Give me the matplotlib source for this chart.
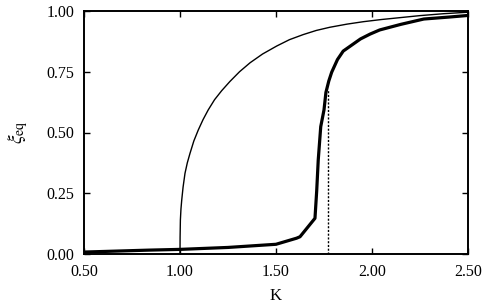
import matplotlib
matplotlib.use('Agg')
import matplotlib.pyplot as plt

# thin curve (mean-field prediction)
k_thin = [1.0, 1.0005, 1.002, 1.005, 1.009, 1.016, 1.026, 1.038, 1.052, 1.072, 1.095, 1.12,
          1.147, 1.18, 1.217, 1.26, 1.31, 1.365, 1.43, 1.504, 1.57, 1.642, 1.71, 1.78,
          1.87, 1.955, 2.05, 2.15, 2.25, 2.375, 2.50]
xi_thin = [0.0, 0.07, 0.14, 0.185, 0.222, 0.275, 0.332, 0.375, 0.414, 0.465, 0.51, 0.553,
           0.593, 0.635, 0.672, 0.71, 0.75, 0.787, 0.823, 0.856, 0.882, 0.903, 0.92, 0.933,
           0.946, 0.956, 0.965, 0.973, 0.981, 0.989, 0.995]

# thick curve (simulation)
k_thick = [0.50, 0.84, 1.00, 1.25, 1.50, 1.607, 1.625, 1.703, 1.712, 1.72, 1.733, 1.75, 1.76,
           1.775, 1.79, 1.82, 1.85, 1.94, 1.99, 2.04, 2.15, 2.27, 2.40, 2.49, 2.50]
xi_thick = [0.008, 0.016, 0.019, 0.027, 0.04, 0.065, 0.071, 0.147, 0.26, 0.387, 0.524, 0.593, 0.665,
            0.712, 0.748, 0.8, 0.835, 0.885, 0.905, 0.922, 0.945, 0.967, 0.975, 0.981, 0.982]

k_crit = 1.769
xi_crit = 0.68

plt.rcParams['font.family'] = ['Liberation Serif', 'DejaVu Serif']
plt.rcParams['mathtext.fontset'] = 'stix'

fig = plt.figure(figsize=(4.9, 3.08), dpi=100)
ax = fig.add_axes([84 / 490, 1 - 254 / 308, 384 / 490, 243 / 308])

ax.plot(k_thin, xi_thin, color='black', lw=1.0, solid_joinstyle='round')
ax.plot(k_thick, xi_thick, color='black', lw=2.3, solid_joinstyle='round')
ax.plot([k_crit, k_crit], [0, xi_crit], color='black', lw=1.0, linestyle=(0, (1.5, 1.2)))

ax.set_xlim(0.5, 2.5)
ax.set_ylim(0.0, 1.0)
ax.set_xticks([0.5, 1.0, 1.5, 2.0, 2.5])
ax.set_xticklabels(['0.50', '1.00', '1.50', '2.00', '2.50'])
ax.set_yticks([0.0, 0.25, 0.5, 0.75, 1.0])
ax.set_yticklabels(['0.00', '0.25', '0.50', '0.75', '1.00'])
ax.tick_params(direction='in', length=4, width=1, top=True, right=True,
               labelsize=11.5, pad=7)
for s in ax.spines.values():
    s.set_linewidth(1.4)

ax.set_xlabel('K', fontsize=12, labelpad=6)
ax.set_ylabel(r'$\xi_{\rm eq}$', fontsize=14, labelpad=12)

fig.savefig('out.png', dpi=100)
